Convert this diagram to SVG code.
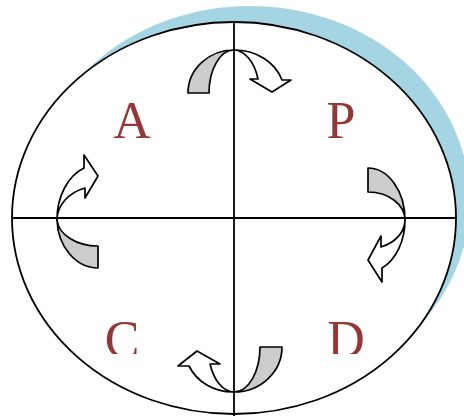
<svg xmlns="http://www.w3.org/2000/svg" width="464" height="416" viewBox="0 0 464 416">
<style>
.ln{stroke:#000;stroke-width:1.8;fill:none}
.lt{font-family:"Liberation Serif","Times New Roman",serif;font-size:52px;fill:#953735;text-anchor:middle}
.g{fill:#cccccc;stroke:#000;stroke-width:1.7;stroke-linejoin:round}
.w{fill:#ffffff;stroke:#000;stroke-width:1.7;stroke-linejoin:round}
</style>
<defs>
<clipPath id="cut"><rect x="0" y="0" width="464" height="354"/></clipPath>
</defs>
<rect width="464" height="416" fill="#fff"/>
<g id="background">
<ellipse cx="250" cy="201" rx="220" ry="195" fill="#a5d5e2"/>
<ellipse cx="234" cy="218" rx="222" ry="196" class="ln" style="fill:#fff"/>
</g>
<g id="axes">
<line class="ln" x1="234" y1="22" x2="234" y2="416"/>
<line class="ln" x1="12" y1="218" x2="456" y2="218"/>
</g>
<g id="labels">
<text class="lt" x="132" y="138">A</text>
<text class="lt" x="341" y="138">P</text>
<g clip-path="url(#cut)">
<text class="lt" x="122" y="357">C</text>
<text class="lt" x="346" y="357">D</text>
</g>
</g>
<g id="connectors">
<g id="arrow-top">
<path class="g" d="M188,93 A46,43 0 0 1 234,50 A25,43 0 0 0 209,93 Z"/>
<path class="w" d="M234,50 A50,43 0 0 1 282,80 L291,80 L272,92 L250,79 L258,79 A26,43 0 0 0 234,50 Z"/>
</g>
<g id="arrow-right">
<path class="g" d="M368,168 A37,52 0 0 1 405,220 A37,28 0 0 0 368,192 Z"/>
<path class="w" d="M405,220 A37,52 0 0 1 382,268 L382,282 L368,260 L381,236 L381,247 A37,29 0 0 0 405,220 Z"/>
</g>
<g id="arrow-bottom">
<path class="g" d="M282,347 A48,45 0 0 1 234,392 A26,45 0 0 0 260,347 Z"/>
<path class="w" d="M234,392 A48,45 0 0 1 189,366 L178,366 L197,351 L220,364 L210,364 A26,45 0 0 0 234,392 Z"/>
</g>
<g id="arrow-left">
<path class="g" d="M57,220 A41,50 0 0 0 98,268 L98,246 A41,28 0 0 1 57,220 Z"/>
<path class="w" d="M57,220 A41,55 0 0 1 84,168 L84,155 L98,176 L85,198 L85,188 A41,34 0 0 0 57,220 Z"/>
</g>
</g>
</svg>
